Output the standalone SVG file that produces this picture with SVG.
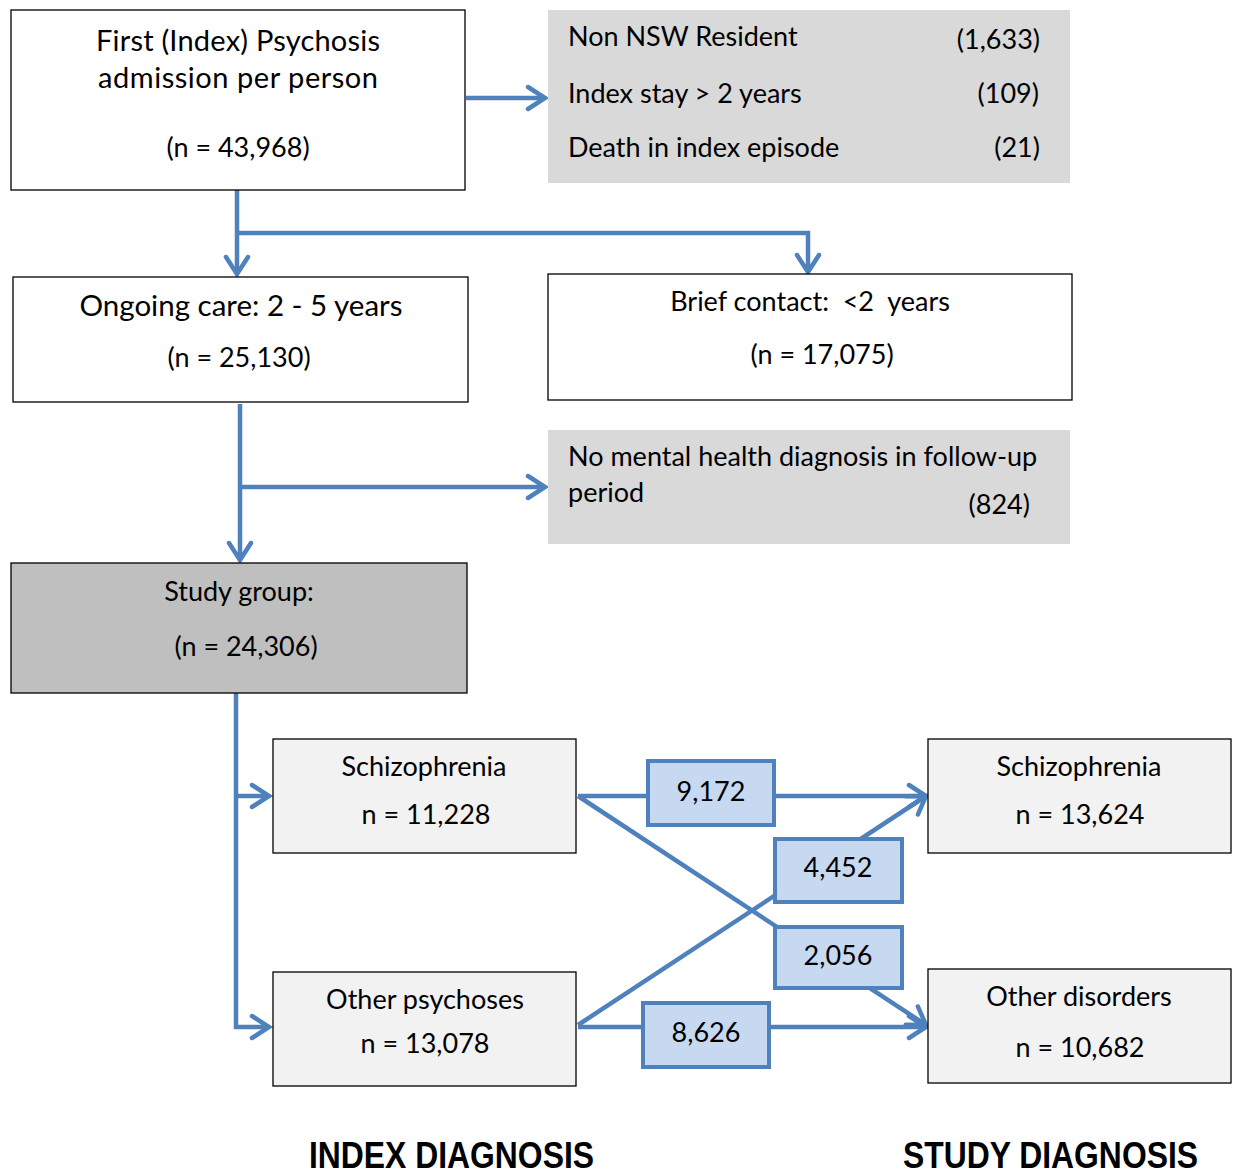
<svg xmlns="http://www.w3.org/2000/svg" width="1235" height="1176" viewBox="0 0 1235 1176">
<style>
.t{font-family:Lato,"Open Sans","Liberation Sans",sans-serif;font-size:27px;fill:#000}
.c{text-anchor:middle}
.r{text-anchor:end}
.bx{stroke:#000;stroke-width:1.3}
.num{fill:#c6d9f1;stroke:#4f81bd;stroke-width:4}
.ln{fill:none;stroke:#4f81bd;stroke-width:4.5}
.h{font-family:"Liberation Sans",Arial,sans-serif;font-weight:bold;font-size:36px}
</style>
<defs>
<marker id="ah" markerUnits="userSpaceOnUse" markerWidth="30" markerHeight="30" viewBox="-20 -15 30 30" refX="0" refY="0" orient="auto">
<path d="M-17,-11 L0,0 L-17,11" fill="none" stroke="#4f81bd" stroke-width="4.5" stroke-linecap="round" stroke-linejoin="miter"/>
</marker>
</defs>
<g id="connectors">
<path class="ln" d="M237,185 V274" marker-end="url(#ah)"/>
<path class="ln" d="M237,233 H808 V272" marker-end="url(#ah)"/>
<path class="ln" d="M466,98 H545" marker-end="url(#ah)"/>
<path class="ln" d="M240,404 V560" marker-end="url(#ah)"/>
<path class="ln" d="M240,487 H545" marker-end="url(#ah)"/>
<path class="ln" d="M236,692 V1027 H269" marker-end="url(#ah)"/>
<path class="ln" d="M236,796 H269" marker-end="url(#ah)"/>
<path class="ln" d="M578,796 H926" marker-end="url(#ah)"/>
<path class="ln" d="M578,796 L926,1025" marker-end="url(#ah)"/>
<path class="ln" d="M578,1025 L926,796" marker-end="url(#ah)"/>
<path class="ln" d="M578,1027 H926" marker-end="url(#ah)"/>
</g>
<g id="first">
<rect class="bx" x="11" y="10" width="454" height="180" fill="#fff"/>
<text class="t" x="96" y="51" style="font-size:29px" textLength="284" lengthAdjust="spacing">First (Index) Psychosis</text>
<text class="t" x="98" y="88" style="font-size:29px" textLength="280" lengthAdjust="spacing">admission per person</text>
<text class="t c" x="238" y="157">(n = 43,968)</text>
</g>
<g id="excl1">
<rect x="548" y="10" width="522" height="173" fill="#d9d9d9"/>
<text class="t" x="568" y="46">Non NSW Resident</text>
<text class="t r" x="1040" y="49">(1,633)</text>
<text class="t" x="568" y="103">Index stay &gt; 2 years</text>
<text class="t r" x="1039" y="103">(109)</text>
<text class="t" x="568" y="157">Death in index episode</text>
<text class="t r" x="1040" y="157">(21)</text>
</g>
<g id="ongoing">
<rect class="bx" x="13" y="277" width="455" height="125" fill="#fff"/>
<text class="t c" x="241" y="316" style="font-size:29.5px">Ongoing care: 2 - 5 years</text>
<text class="t c" x="239" y="367">(n = 25,130)</text>
</g>
<g id="brief">
<rect class="bx" x="548" y="274" width="524" height="126" fill="#fff"/>
<text class="t c" x="810" y="311" xml:space="preserve">Brief contact:  &lt;2  years</text>
<text class="t c" x="822" y="364">(n = 17,075)</text>
</g>
<g id="excl2">
<rect x="548" y="430" width="522" height="114" fill="#d9d9d9"/>
<text class="t" x="568" y="466">No mental health diagnosis in follow-up</text>
<text class="t" x="568" y="502">period</text>
<text class="t r" x="1030" y="514">(824)</text>
</g>
<g id="study">
<rect class="bx" x="11" y="563" width="456" height="130" fill="#bfbfbf"/>
<text class="t c" x="239" y="601">Study group:</text>
<text class="t c" x="246" y="656">(n = 24,306)</text>
</g>
<g id="schizo-index">
<rect class="bx" x="273" y="739" width="303" height="114" fill="#f2f2f2"/>
<text class="t c" x="424" y="776">Schizophrenia</text>
<text class="t c" x="426" y="824">n = 11,228</text>
</g>
<g id="other-index">
<rect class="bx" x="273" y="972" width="303" height="114" fill="#f2f2f2"/>
<text class="t c" x="425" y="1009">Other psychoses</text>
<text class="t c" x="425" y="1053">n = 13,078</text>
</g>
<g id="schizo-study">
<rect class="bx" x="928" y="739" width="303" height="114" fill="#f2f2f2"/>
<text class="t c" x="1079" y="776">Schizophrenia</text>
<text class="t c" x="1080" y="824">n = 13,624</text>
</g>
<g id="other-study">
<rect class="bx" x="928" y="969" width="303" height="114" fill="#f2f2f2"/>
<text class="t c" x="1079" y="1006">Other disorders</text>
<text class="t c" x="1080" y="1057">n = 10,682</text>
</g>
<g id="n9172">
<rect class="num" x="648" y="761" width="126" height="64"/>
<text class="t c" x="711" y="801">9,172</text>
</g>
<g id="n4452">
<rect class="num" x="775" y="839" width="127" height="63"/>
<text class="t c" x="838" y="877">4,452</text>
</g>
<g id="n2056">
<rect class="num" x="775" y="927" width="127" height="61"/>
<text class="t c" x="838" y="965">2,056</text>
</g>
<g id="n8626">
<rect class="num" x="643" y="1003" width="126" height="64"/>
<text class="t c" x="706" y="1042">8,626</text>
</g>
<g id="labels">
<text class="h" x="309" y="1168" textLength="285" lengthAdjust="spacingAndGlyphs">INDEX DIAGNOSIS</text>
<text class="h" x="903" y="1168" textLength="295" lengthAdjust="spacingAndGlyphs">STUDY DIAGNOSIS</text>
</g>
</svg>
